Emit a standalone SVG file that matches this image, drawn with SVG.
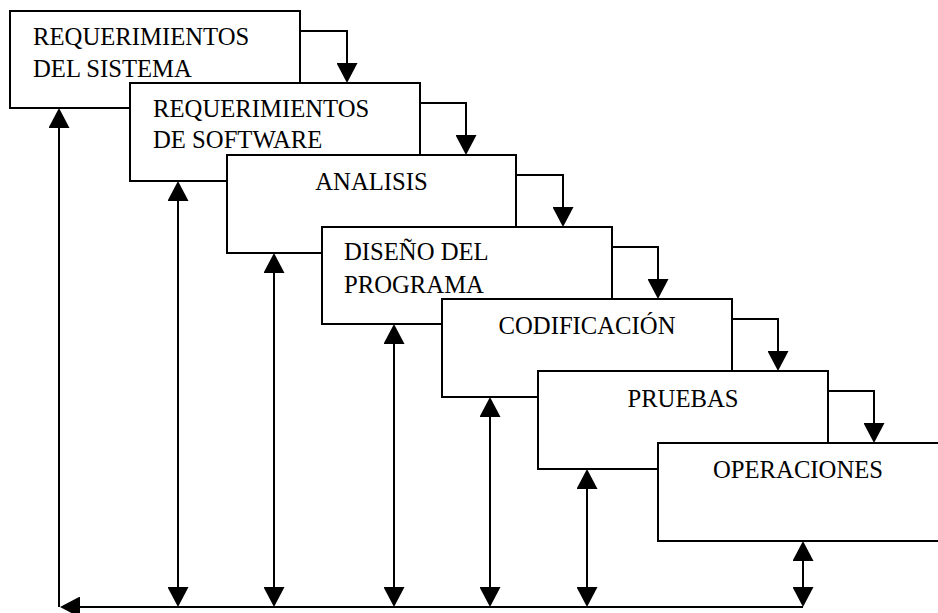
<svg xmlns="http://www.w3.org/2000/svg" width="938" height="613" viewBox="0 0 938 613">
<style>
.box{fill:#fff;stroke:#000;stroke-width:2}
.t{font-family:'Liberation Serif','Times New Roman',serif;font-size:24.7px;fill:#000}
.c{text-anchor:middle}
.ln{fill:none;stroke:#000;stroke-width:2}
.a1{marker-end:url(#ah)}
.a2{marker-start:url(#ah);marker-end:url(#ah)}
</style>
<defs>
<marker id="ah" viewBox="0 0 20 21" markerWidth="20" markerHeight="21" refX="17" refY="10.5" orient="auto-start-reverse" markerUnits="userSpaceOnUse">
<path d="M0,0 L20,10.5 L0,21 Z" fill="#000"/>
</marker>
</defs>
<rect width="938" height="613" fill="#fff"/>
<g id="n1"><rect class="box" x="10" y="11" width="290" height="97"/>
<text class="t" x="33" y="45">REQUERIMIENTOS</text><text class="t" x="33" y="77">DEL SISTEMA</text></g>
<g id="n2"><rect class="box" x="130" y="83" width="290" height="98"/>
<text class="t" x="153" y="117">REQUERIMIENTOS</text><text class="t" x="153" y="148">DE SOFTWARE</text></g>
<g id="n3"><rect class="box" x="227" y="155" width="289" height="98"/>
<text class="t c" x="371.5" y="190">ANALISIS</text></g>
<g id="n4"><rect class="box" x="322" y="227" width="290" height="97"/>
<text class="t" x="344" y="260">DISEÑO DEL</text><text class="t" x="344" y="293">PROGRAMA</text></g>
<g id="n5"><rect class="box" x="442" y="299" width="290" height="98"/>
<text class="t c" x="587" y="334">CODIFICACIÓN</text></g>
<g id="n6"><rect class="box" x="538" y="371" width="290" height="98"/>
<text class="t c" x="683" y="407">PRUEBAS</text></g>
<g id="n7"><rect class="box" x="658" y="443" width="300" height="98"/>
<text class="t c" x="798" y="478">OPERACIONES</text></g>
<g id="connectors">
<path class="ln a1" d="M300,31 H347 V80"/>
<path class="ln a1" d="M420,103 H466 V152"/>
<path class="ln a1" d="M516,175 H563 V224"/>
<path class="ln a1" d="M612,247 H658 V296"/>
<path class="ln a1" d="M732,319 H778 V368"/>
<path class="ln a1" d="M828,391 H874 V440"/>
<path class="ln a1" d="M803,607 H63"/>
<path class="ln a1" d="M59,607 V111"/>
<path class="ln a2" d="M178,184 V604"/>
<path class="ln a2" d="M274,256 V604"/>
<path class="ln a2" d="M394,327 V604"/>
<path class="ln a2" d="M490,400 V604"/>
<path class="ln a2" d="M587,472 V604"/>
<path class="ln a2" d="M803,544 V604"/>
</g>
</svg>
